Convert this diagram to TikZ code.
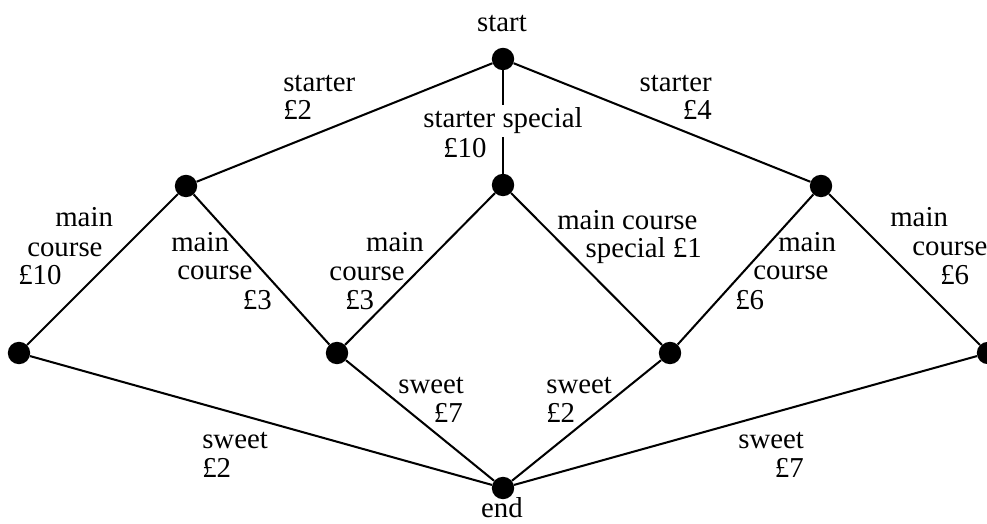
\documentclass[tikz,border=0pt]{standalone}
\usepackage{fontspec}
\setmainfont{Liberation Serif}
\begin{document}
\begin{tikzpicture}[x=0.025cm,y=-0.025cm,
  dot/.style={circle,fill=black,inner sep=0pt,minimum size=0.56cm},
  edge/.style={line width=1.45pt,black},
  lab/.style={inner sep=0pt,font=\fontsize{20.5}{20.5}\selectfont},
  lw/.style={lab,anchor=base west},
  le/.style={lab,anchor=base east},
  lc/.style={lab,anchor=base}]
\useasboundingbox (0,0) rectangle (987,524);
% vertices
\node[dot] (S) at (503,59) {};
\node[dot] (L1) at (186,186) {};
\node[dot] (M1) at (503,185) {};
\node[dot] (R1) at (821,186) {};
\node[dot] (B1) at (19,353) {};
\node[dot] (B2) at (337,353) {};
\node[dot] (B3) at (670,353) {};
\node[dot] (B4) at (988,353) {};
\node[dot] (E) at (503,488) {};
% edges
\draw[edge] (S) -- (L1);
\draw[edge] (S) -- (M1);
\draw[edge] (S) -- (R1);
\draw[edge] (L1) -- (B1);
\draw[edge] (L1) -- (B2);
\draw[edge] (M1) -- (B2);
\draw[edge] (M1) -- (B3);
\draw[edge] (R1) -- (B3);
\draw[edge] (R1) -- (B4);
\draw[edge] (B1) -- (E);
\draw[edge] (B2) -- (E);
\draw[edge] (B3) -- (E);
\draw[edge] (B4) -- (E);
% end labels
\node[lc] (tstart) at (502,32) {start};
\node[lc] (tend) at (502,517) {end};
% starter labels
\node[lw] (a1) at (283,92) {starter};
\node[lw] (a2) at (283,120) {£2};
\node[lw,fill=white,inner ysep=2pt,inner xsep=0pt] (b1) at (423,128) {starter special};
\node[lw] (b2) at (443,158) {£10};
\node[le] (c1) at (712,92) {starter};
\node[le] (c2) at (712,120) {£4};
% main course labels
\node[lw] (d1) at (55,227) {main};
\node[lw] (d2) at (27,257) {course};
\node[lw] (d3) at (18,285) {£10};
\node[lw] (e1) at (171,252) {main};
\node[lw] (e2) at (177,280) {course};
\node[le] (e3) at (272,310) {£3};
\node[le] (f1) at (424,252) {main};
\node[le] (f2) at (405,281) {course};
\node[lw] (f3) at (345,310) {£3};
\node[lw] (g1) at (557,230) {main course};
\node[le] (g2) at (702,258) {special £1};
\node[lw] (h1) at (778,252) {main};
\node[lw] (h2) at (753,280) {course};
\node[lw] (h3) at (735,310) {£6};
\node[lw] (k1) at (890,227) {main};
\node[lw] (k2) at (912,256) {course};
\node[lw] (k3) at (940,285) {£6};
% sweet labels
\node[lw] (m1) at (202,448) {sweet};
\node[lw] (m2) at (202,477) {£2};
\node[lw] (n1) at (398,393) {sweet};
\node[le] (n2) at (463,422) {£7};
\node[lw] (p1) at (546,393) {sweet};
\node[lw] (p2) at (546,422) {£2};
\node[lw] (q1) at (738,448) {sweet};
\node[le] (q2) at (804,477) {£7};
\end{tikzpicture}
\end{document}
